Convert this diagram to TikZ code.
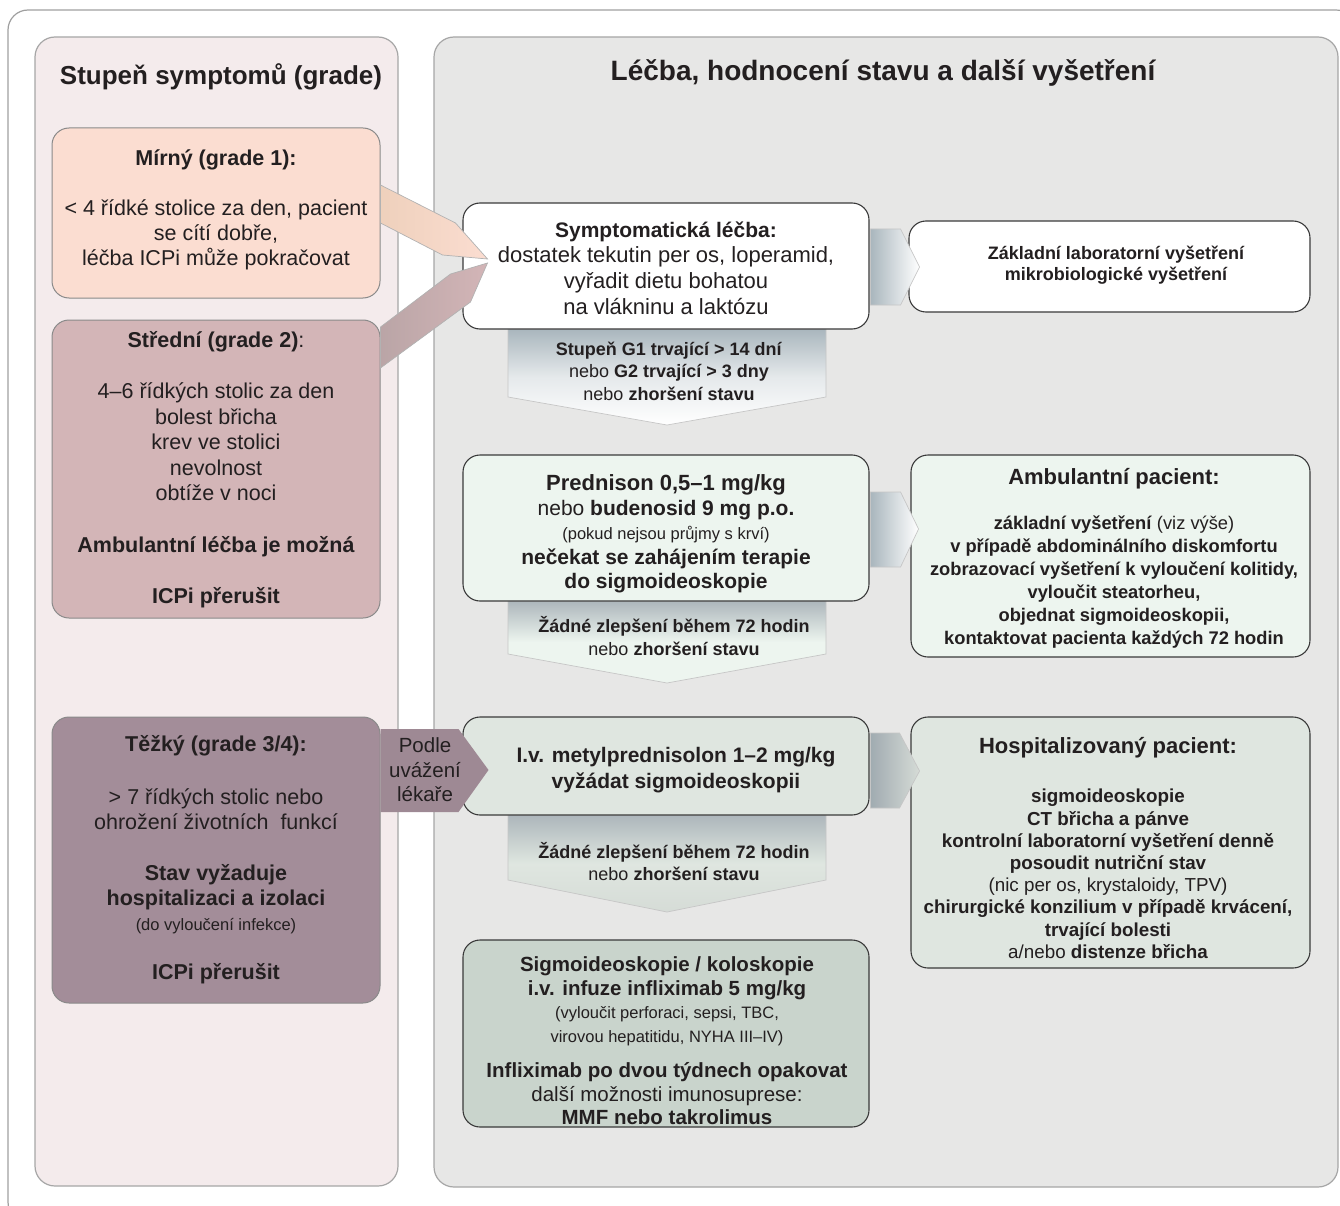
\documentclass[tikz,border=0pt]{standalone}
\usepackage{fontspec}
\setmainfont{Liberation Sans}
\usetikzlibrary{calc}
\definecolor{txt}{HTML}{231F20}
\definecolor{lpanel}{HTML}{F4EBEC}
\definecolor{rpanel}{HTML}{E7E7E6}
\definecolor{panelline}{HTML}{A6A6A6}
\definecolor{mildc}{HTML}{FBDDD1}
\definecolor{modc}{HTML}{D3B5B7}
\definecolor{sevc}{HTML}{A38D99}
\definecolor{predc}{HTML}{EDF5EF}
\definecolor{ivc}{HTML}{DFE6E0}
\definecolor{finc}{HTML}{C9D4CC}
\definecolor{arrtop}{HTML}{A9B6BD}
\definecolor{bdark}{HTML}{3A3A3A}
\definecolor{bleft}{HTML}{8A8A8A}
\newcommand{\fSm}{\fontsize{16.5}{21}\selectfont}
\begin{document}
\begin{tikzpicture}[x=1pt,y=-1pt]
\tikzset{
  panel/.style={draw=panelline, line width=1.2pt, rounded corners=20pt, inner sep=0pt},
  box/.style={draw=bdark, line width=1.1pt, rounded corners=17pt, inner sep=0pt},
  lbox/.style={draw=bleft, line width=1pt, rounded corners=17pt, inner sep=0pt},
  tx/.style={align=center, inner sep=0pt, text=txt},
  blockarrow/.style={draw=gray!45, line width=0.7pt},
}
\useasboundingbox (0,0) rectangle (1340,1206);
\clip (0,0) rectangle (1340,1206);
% outer frame
\node[panel, draw=gray!75, minimum width=1348, minimum height=1212] (frame) at (682,616) {};
% panels
\node[panel, fill=lpanel, minimum width=363, minimum height=1149] (lp) at (216.5,611.5) {};
\node[panel, fill=rpanel, minimum width=904, minimum height=1150] (rp) at (886,612) {};
\node[tx, font=\fontsize{26}{30}\selectfont\bfseries] (ttlL) at (221,77) {Stupeň symptomů (grade)};
\node[tx, font=\fontsize{28}{30}\selectfont\bfseries] (ttlR) at (883,73) {Léčba, hodnocení stavu a další vyšetření};

% left boxes
\node[lbox, fill=mildc, minimum width=328, minimum height=170] (mild) at (216,213) {};
\node[lbox, fill=modc, minimum width=328, minimum height=298] (mod) at (216,469) {};
\node[lbox, fill=sevc, minimum width=328, minimum height=286] (sev) at (216,860) {};

% down arrows (behind boxes)
\shadedraw[blockarrow, top color=arrtop, bottom color=white, middle color=white!70!arrtop]
  (508,329) -- (826,329) -- (826,397) -- (667,425) -- (508,397) -- cycle;
\shadedraw[blockarrow, top color=arrtop!90!black!80, bottom color=predc, middle color=predc]
  (508,601) -- (826,601) -- (826,654) -- (667,683) -- (508,654) -- cycle;
\shadedraw[blockarrow, top color=arrtop!90!black!80, bottom color=ivc!90!gray, middle color=ivc]
  (508,815) -- (826,815) -- (826,880) -- (667,912) -- (508,880) -- cycle;

% middle boxes
\node[box, fill=white, minimum width=406, minimum height=126] (sympt) at (666,266) {};
\node[box, fill=predc, minimum width=406, minimum height=146] (pred) at (666,528) {};
\node[box, fill=ivc, minimum width=406, minimum height=98] (iv) at (666,766) {};
\node[box, fill=finc, minimum width=406, minimum height=187] (fin) at (666,1033.5) {};
% right boxes
\node[box, fill=white, minimum width=401, minimum height=91] (zakl) at (1109.5,266.5) {};
\node[box, fill=predc, minimum width=399, minimum height=202] (amb) at (1110.5,556) {};
\node[box, fill=ivc, minimum width=399, minimum height=251] (hosp) at (1110.5,842.5) {};

% chevrons to right boxes
\shadedraw[blockarrow, left color=arrtop, right color=white]
  ($(sympt.east)+(1,-37)$) -- ($(sympt.east)+(31,-37)$) -- ($(sympt.east)+(50,1)$) -- ($(sympt.east)+(31,39)$) -- ($(sympt.east)+(1,39)$) -- cycle;
\shadedraw[blockarrow, left color=arrtop, right color=white]
  ($(pred.east)+(1,-36)$) -- ($(pred.east)+(31,-36)$) -- ($(pred.east)+(49,1)$) -- ($(pred.east)+(31,39)$) -- ($(pred.east)+(1,39)$) -- cycle;
\shadedraw[blockarrow, left color=arrtop!80!gray, right color=ivc!90!gray]
  ($(iv.east)+(1,-33)$) -- ($(iv.east)+(30,-33)$) -- ($(iv.east)+(50,5)$) -- ($(iv.east)+(30,42)$) -- ($(iv.east)+(1,42)$) -- cycle;

% diagonal arrows from left boxes
\shadedraw[draw=gray!60, line width=0.7pt, left color=mildc!70!brown!75, right color=mildc]
  ($(mild.east)+(0,-28)$) -- ($(mild.east)+(75,10)$) -- ($(mild.east)+(107,46)$) -- ($(mild.east)+(62,42)$) -- ($(mild.east)+(0,10)$) -- cycle;
\shadedraw[draw=gray!60, line width=0.7pt, left color=modc!70!gray, right color=modc]
  ($(mod.east)+(0,-142)$) -- ($(mod.east)+(70,-195)$) -- ($(mod.east)+(107,-206)$) -- ($(mod.east)+(90,-167)$) -- ($(mod.east)+(0,-101)$) -- cycle;
% Podle uvazeni arrow
\fill[sevc!97!black]
  ($(sev.east)+(0,-131)$) -- ($(sev.east)+(78,-131)$) -- ($(sev.east)+(108,-90)$) -- ($(sev.east)+(78,-48)$) -- ($(sev.east)+(0,-48)$) -- cycle;
\node[tx, font=\fontsize{20.5}{24.5}\selectfont] (podle) at (425,770) {Podle\\uvážení\\lékaře};

% texts
\node[tx, font=\fontsize{21.5}{25}\selectfont] (mildt) at (216,210)
  {\textbf{Mírný (grade 1):}\\[25pt]< 4 řídké stolice za den, pacient\\se cítí dobře,\\léčba ICPi může pokračovat};
\node[tx, font=\fontsize{21.5}{25.5}\selectfont] (modt) at (216,469.5)
  {\textbf{Střední (grade 2)}:\\[26pt]4–6 řídkých stolic za den\\bolest břicha\\krev ve stolici\\nevolnost\\obtíže v noci\\[26pt]\textbf{Ambulantní léčba je možná}\\[26pt]\textbf{ICPi přerušit}};
\node[tx, font=\fontsize{21.5}{25}\selectfont] (sevt) at (216,860)
  {\textbf{Těžký (grade 3/4):}\\[28pt]> 7 řídkých stolic nebo\\ohrožení životních~~funkcí\\[26pt]\textbf{Stav vyžaduje}\\\textbf{hospitalizaci a izolaci}\\{\fSm (do vyloučení infekce)}\\[24pt]\textbf{ICPi přerušit}};

\node[tx, font=\fontsize{22}{25.7}\selectfont] (symptt) at (666,268)
  {{\fontsize{21}{25}\selectfont\textbf{Symptomatická léčba:}}\\dostatek tekutin per os, loperamid,\\vyřadit dietu bohatou\\na vlákninu a laktózu};
\node[tx, font=\fontsize{18}{20.5}\selectfont\bfseries] (zaklt) at (1116,265)
  {Základní laboratorní vyšetření\\mikrobiologické vyšetření};
\node[tx, font=\fontsize{18}{22.5}\selectfont] (d1t) at (669,371)
  {\textbf{Stupeň G1 trvající > 14 dní}\\nebo \textbf{G2 trvající > 3 dny}\\nebo \textbf{zhoršení stavu}};
\node[tx, font=\fontsize{21}{24.5}\selectfont] (predt) at (666,534)
  {{\fontsize{22}{24}\selectfont\textbf{Prednison 0,5–1 mg/kg}}\\nebo \textbf{budenosid 9 mg p.o.}\\{\fSm (pokud nejsou průjmy s krví)}\\\textbf{nečekat se zahájením terapie}\\\textbf{do sigmoideoskopie}};
\node[tx, font=\fontsize{18}{23}\selectfont] (d2t) at (674,636)
  {\textbf{Žádné zlepšení během 72 hodin}\\nebo \textbf{zhoršení stavu}};
\node[tx, font=\fontsize{18.3}{23}\selectfont\bfseries] (ambt) at (1114,558)
  {{\fontsize{22}{23}\selectfont Ambulantní pacient:}\\[22pt]základní vyšetření \textmd{(viz výše)}\\v případě abdominálního diskomfortu\\zobrazovací vyšetření k vyloučení kolitidy,\\vyloučit steatorheu,\\objednat sigmoideoskopii,\\kontaktovat pacienta každých 72 hodin};
\node[tx, font=\fontsize{21}{26}\selectfont\bfseries] (ivt) at (676,770)
  {I.v. metylprednisolon 1–2 mg/kg\\vyžádat sigmoideoskopii};
\node[tx, font=\fontsize{18}{22}\selectfont] (d3t) at (674,862)
  {\textbf{Žádné zlepšení během 72 hodin}\\nebo \textbf{zhoršení stavu}};
\node[tx, font=\fontsize{18.8}{22.2}\selectfont\bfseries] (hospt) at (1108,848)
  {{\fontsize{22}{22}\selectfont Hospitalizovaný pacient:}\\[27pt]sigmoideoskopie\\CT břicha a pánve\\kontrolní laboratorní vyšetření denně\\posoudit nutriční stav\\\textmd{(nic per os, krystaloidy, TPV)}\\chirurgické konzilium v případě krvácení,\\trvající bolesti\\\textmd{a/nebo} distenze břicha};
\node[tx, font=\fontsize{20.5}{23.5}\selectfont] (fint) at (667,1041)
  {\textbf{Sigmoideoskopie / koloskopie}\\\textbf{i.v. infuze infliximab 5 mg/kg}\\{\fSm (vyloučit perforaci, sepsi, TBC,}\\{\fSm virovou hepatitidu, NYHA III–IV)}\\[12pt]\textbf{Infliximab po dvou týdnech opakovat}\\další možnosti imunosuprese:\\\textbf{MMF nebo takrolimus}};
\end{tikzpicture}
\end{document}
